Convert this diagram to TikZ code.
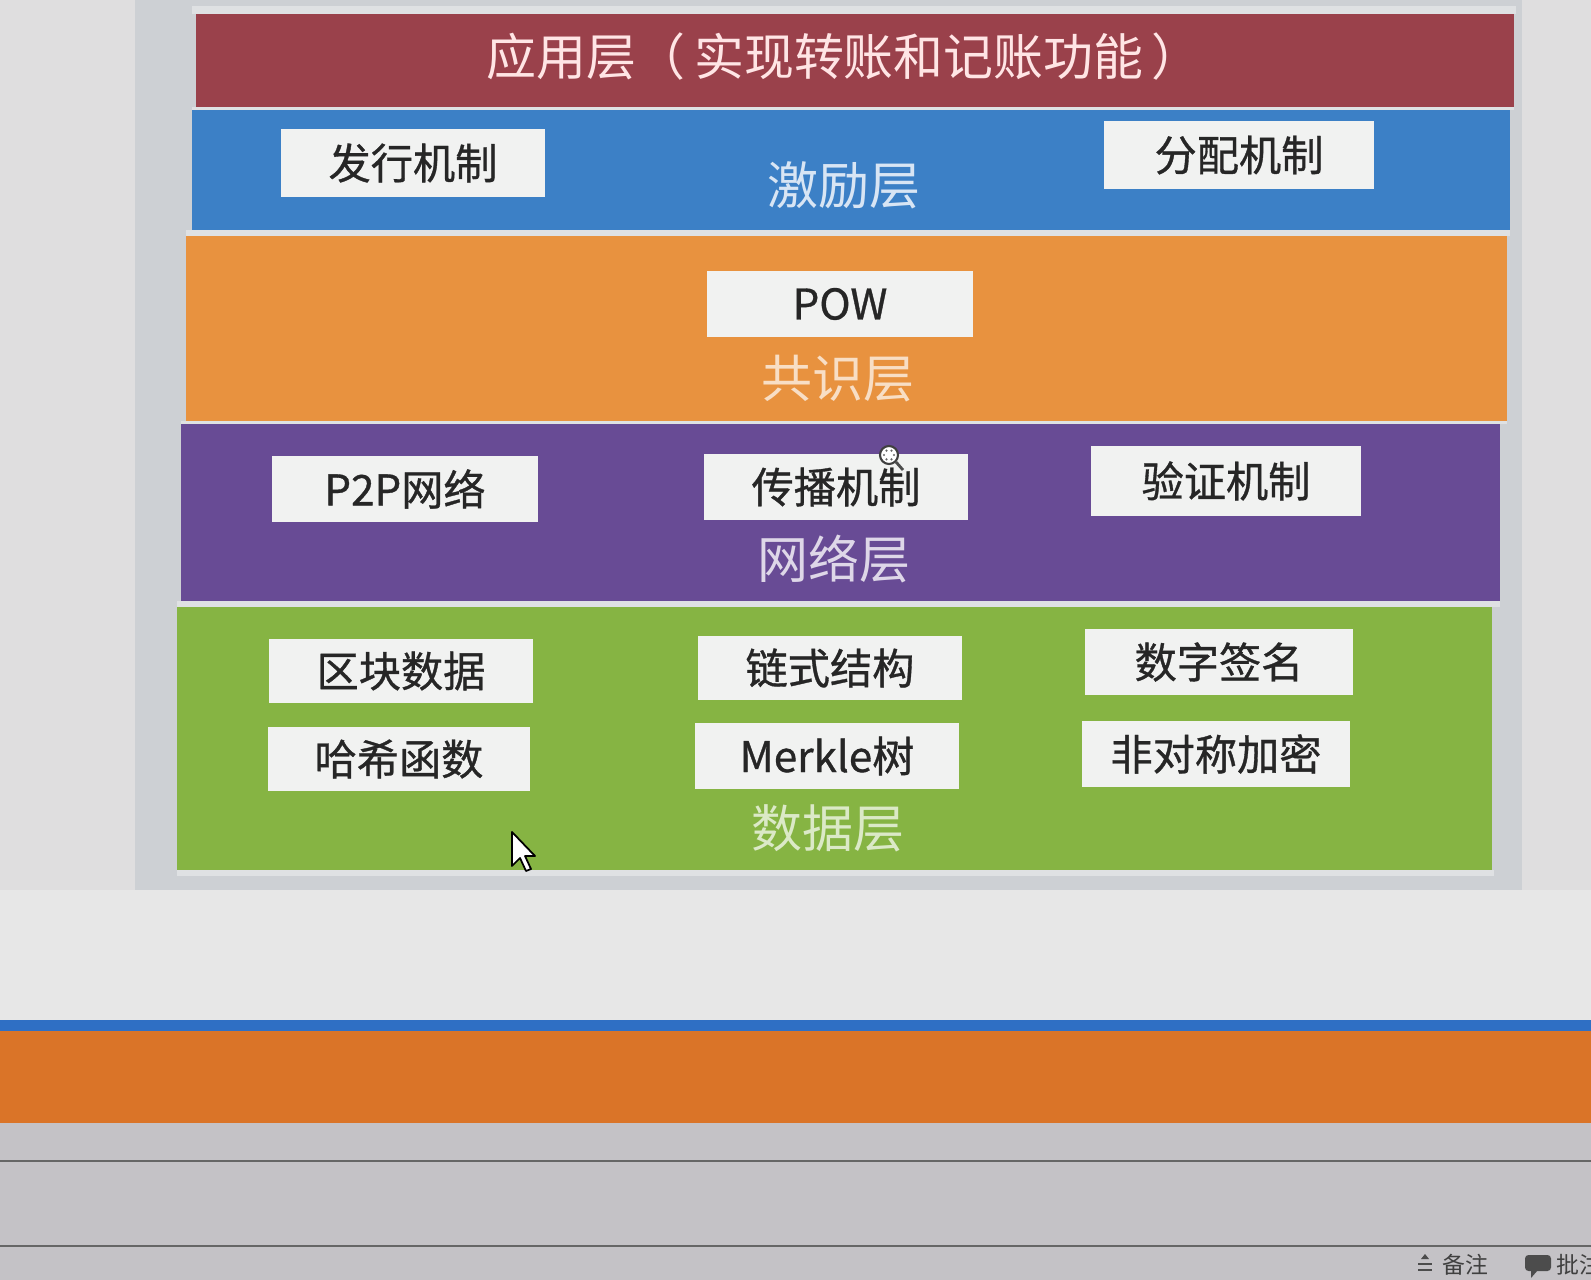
\documentclass[tikz,border=0pt]{standalone}
\usepackage{fontspec}
\usetikzlibrary{calc}
\setmainfont{Noto Sans CJK SC}
\newfontfamily\cjk{Noto Sans CJK SC}
\newfontfamily\cjkb[FakeBold=0.8]{Noto Sans CJK SC}
\definecolor{screenbg}{HTML}{DFDEDF}
\definecolor{lowerbg}{HTML}{E7E7E7}
\definecolor{slidebg}{HTML}{CDD0D4}
\definecolor{gaplight}{HTML}{DFE1E3}
\definecolor{appred}{HTML}{9A414B}
\definecolor{incblue}{HTML}{3C80C6}
\definecolor{conorange}{HTML}{E8923F}
\definecolor{netpurple}{HTML}{684B95}
\definecolor{datagreen}{HTML}{86B443}
\definecolor{boxwhite}{HTML}{F1F2F1}
\definecolor{barblue}{HTML}{2F6FC4}
\definecolor{barorange}{HTML}{DA7428}
\definecolor{statusgray}{HTML}{C4C2C6}
\tikzset{
  wbox/.style={fill=boxwhite, draw=none, minimum width=2.64cm, minimum height=0.66cm,
    inner sep=0pt, font=\cjkb\fontsize{12}{14}\selectfont, text=black!85},
  layerlabel/.style={font=\cjk\fontsize{14.5}{16}\selectfont, inner sep=0pt},
}
\begin{document}
\begin{tikzpicture}[x=0.01cm,y=-0.01cm]
\useasboundingbox (0,0) rectangle (1591,1280);
% screen background
\fill[screenbg] (0,0) rectangle (1591,1022);
\fill[lowerbg] (0,890) rectangle (1591,1020);
\fill[slidebg] (135,0) rectangle (1522,890);
% light gaps between layers
\fill[gaplight] (192,6) rectangle (1516,14);
\fill[gaplight] (192,107) rectangle (1514,110);
\fill[gaplight] (186,230) rectangle (1510,236);
\fill[gaplight] (181,421) rectangle (1507,424);
\fill[gaplight] (177,601) rectangle (1500,607);
\fill[gaplight] (177,870) rectangle (1494,876);
% layers
\fill[appred] (196,14) rectangle (1514,107);
\node[font=\cjk\fontsize{14.2}{16}\selectfont, text=white!90!red, inner sep=0pt] (app) at (844,57) {应用层（\,实现转账和记账功能\,）};
\fill[incblue] (192,110) rectangle (1510,230);
\fill[conorange] (186,236) rectangle (1507,421);
\fill[netpurple] (181,424) rectangle (1500,601);
\fill[datagreen] (177,607) rectangle (1492,870);
% layer labels
\node[layerlabel, text=white!80!incblue] (inc) at (844,185) {激励层};
\node[layerlabel, text=white!70!conorange] (con) at (838,379) {共识层};
\node[layerlabel, text=white!78!netpurple] (net) at (834,559) {网络层};
\node[layerlabel, text=white!70!datagreen] (dat) at (828,828) {数据层};
% boxes
\node[wbox, minimum width=2.63cm, minimum height=0.67cm] (fx) at (413,163) {发行机制};
\node[wbox, minimum width=2.70cm, minimum height=0.67cm] (fp) at (1239,155) {分配机制};
\node[wbox, minimum width=2.65cm, minimum height=0.65cm] (pow) at (840,304) {POW};
\node[wbox, minimum width=2.65cm, minimum height=0.65cm] (p2p) at (405,489) {P2P网络};
\node[wbox, minimum width=2.64cm, minimum height=0.66cm] (cb) at (836,487) {传播机制};
\node[wbox, minimum width=2.70cm, minimum height=0.69cm] (yz) at (1226,481) {验证机制};
\node[wbox, minimum width=2.64cm, minimum height=0.64cm] (qk) at (401,671) {区块数据};
\node[wbox, minimum width=2.63cm, minimum height=0.64cm] (ls) at (830,668) {链式结构};
\node[wbox, minimum width=2.68cm, minimum height=0.66cm] (sz) at (1219,662) {数字签名};
\node[wbox, minimum width=2.62cm, minimum height=0.63cm] (hx) at (399,759) {哈希函数};
\node[wbox, minimum width=2.63cm, minimum height=0.65cm] (mk) at (827,756) {Merkle树};
\node[wbox, minimum width=2.68cm, minimum height=0.66cm] (fd) at (1216,754) {非对称加密};
% small busy cursor
\coordinate (busy) at (889,455);
\draw[black!70, line width=0.8pt] (896,462) -- (903,470);
\filldraw[fill=white, draw=black!75, line width=0.6pt] (busy) circle (9);
\foreach \a in {0,60,...,300} \fill[black!60] ($(busy)+(\a:5)$) circle (1.2);
% mouse cursor
\fill[white] (512,832) -- (512,866) -- (520,858) -- (526,871) -- (531,869) -- (525,856) -- (535,856) -- cycle;
\draw[black, line width=0.5pt, line join=round] (512,832) -- (512,866) -- (520,858) -- (526,871) -- (531,869) -- (525,856) -- (535,856) -- cycle;
% bottom bars
\fill[barblue] (0,1020) rectangle (1591,1031);
\fill[barorange] (0,1031) rectangle (1591,1123);
\fill[statusgray] (0,1123) rectangle (1591,1280);
\draw[gray!80!black, line width=0.5pt] (0,1161) -- (1591,1161);
\draw[gray!80!black, line width=0.5pt] (0,1246) -- (1591,1246);
% status bar items
\draw[black!70, line width=0.7pt] (1418,1264) -- (1432,1264) (1418,1270) -- (1432,1270);
\fill[black!70] (1421,1259) -- (1425,1254) -- (1429,1259) -- cycle;
\node[font=\cjk\fontsize{6.5}{8}\selectfont, text=black!75, anchor=west, inner sep=0pt] (bz) at (1442,1265) {备注};
\fill[black!70, rounded corners=1pt] (1525,1255) rectangle (1551,1271);
\fill[black!70] (1531,1270) -- (1531,1278) -- (1538,1270) -- cycle;
\node[font=\cjk\fontsize{6.5}{8}\selectfont, text=black!75, anchor=west, inner sep=0pt] (pz) at (1556,1265) {批注};
\end{tikzpicture}
\end{document}
